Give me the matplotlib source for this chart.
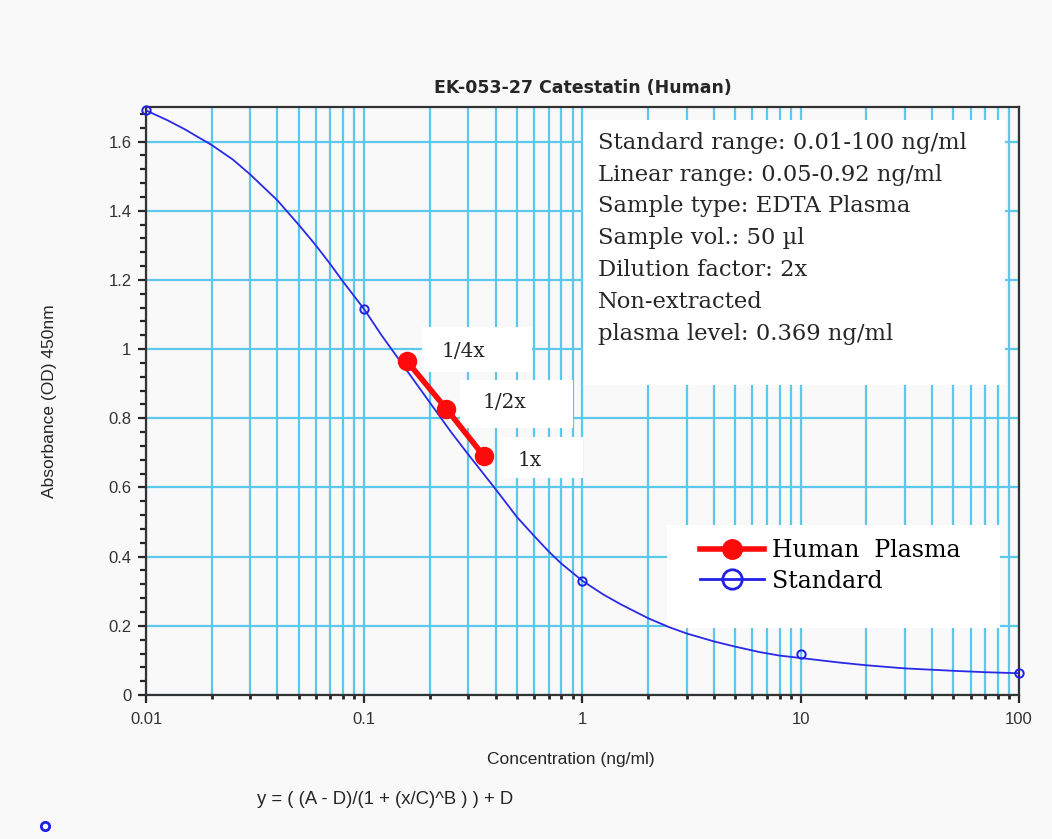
import numpy as np
import matplotlib
matplotlib.use("Agg")
import matplotlib.pyplot as plt
from matplotlib.patches import Rectangle
from matplotlib.lines import Line2D
from matplotlib.ticker import FixedLocator, NullFormatter

# standard points
std_conc = [0.01, 0.1, 1.0, 10.0, 100.0]
std_od = [1.69, 1.115, 0.33, 0.118, 0.063]

# fitted curve
curve_conc = [0.01, 0.0125, 0.015, 0.02, 0.025, 0.03, 0.04, 0.05, 0.06, 0.07, 0.08,
              0.1, 0.12, 0.15, 0.2, 0.25, 0.3, 0.4, 0.5, 0.6, 0.7, 0.8,
              1.0, 1.25, 1.5, 2.0, 2.5, 3.0, 4.0, 5.0, 6.5, 8.0,
              10.0, 15.0, 20.0, 30.0, 50.0, 70.0, 100.0]
curve_od = [1.69, 1.662, 1.636, 1.59, 1.548, 1.505, 1.43, 1.36, 1.30, 1.245, 1.195,
            1.115, 1.04, 0.955, 0.845, 0.76, 0.695, 0.595, 0.515, 0.46, 0.415, 0.38,
            0.33, 0.29, 0.262, 0.222, 0.196, 0.178, 0.155, 0.14, 0.124, 0.114,
            0.107, 0.094, 0.086, 0.077, 0.07, 0.066, 0.063]

# human plasma dilutions
plasma_conc = [0.157, 0.238, 0.352]
plasma_od = [0.965, 0.827, 0.692]
plasma_labels = ["1/4x", "1/2x", "1x"]

x_ticks = [0.01, 0.1, 1, 10, 100]
x_ticklabels = ["0.01", "0.1", "1", "10", "100"]
y_ticks = [0, 0.2, 0.4, 0.6, 0.8, 1.0, 1.2, 1.4, 1.6]
y_ticklabels = ["0", "0.2", "0.4", "0.6", "0.8", "1", "1.2", "1.4", "1.6"]

info_lines = [
    "Standard range: 0.01-100 ng/ml",
    "Linear range: 0.05-0.92 ng/ml",
    "Sample type: EDTA Plasma",
    "Sample vol.: 50 \u00b5l",
    "Dilution factor: 2x",
    "Non-extracted",
    "plasma level: 0.369 ng/ml",
]

GRID = "#5cc8ec"
BG = "#f9f9f9"
INK = "#262626"
SERIF = ["DejaVu Serif"]
SANS = ["Liberation Sans", "DejaVu Sans"]

fig = plt.figure(figsize=(10.52, 8.39), dpi=100, facecolor=BG)
ax = fig.add_axes([0.1388, 0.1716, 0.8298, 0.7009])
ax.set_facecolor(BG)

ax.set_xscale("log")
ax.set_xlim(0.01, 100)
ax.set_ylim(0, 1.7)

# grid: every decade and sub-decade line on x, major steps on y
minor_x = [m * 10.0 ** e for e in range(-2, 2) for m in range(2, 10)]
ax.xaxis.set_minor_locator(FixedLocator(minor_x))
ax.xaxis.set_minor_formatter(NullFormatter())
ax.set_xticks(x_ticks, x_ticklabels)
ax.set_yticks(y_ticks, y_ticklabels)
ax.yaxis.set_minor_locator(FixedLocator(np.arange(0, 1.7, 0.04)))
ax.set_axisbelow(True)
ax.grid(True, which="both", axis="x", color=GRID, lw=1.6)
ax.grid(True, which="major", axis="y", color=GRID, lw=1.6)

ax.tick_params(axis="both", which="major", direction="out", length=6, width=1.6,
               color=INK, labelsize=12, labelcolor="#333333")
ax.tick_params(axis="x", which="major", pad=6)
ax.tick_params(axis="y", which="major", pad=4.5)
ax.tick_params(axis="y", which="minor", direction="out", length=4, width=1.6, color=INK)
ax.tick_params(axis="x", which="minor", direction="out", length=3, width=2, color=INK)
for lbl in ax.get_xticklabels() + ax.get_yticklabels():
    lbl.set_family(SANS)
for sp in ax.spines.values():
    sp.set_color("#333333")
    sp.set_linewidth(1.6)

# white boxes behind the annotations, they cut the grid like in the original
boxes = [
    (0.5006, 0.527, 0.483, 0.451),
    (0.316, 0.549, 0.126, 0.077),
    (0.360, 0.454, 0.129, 0.082),
    (0.4055, 0.369, 0.095, 0.070),
    (0.597, 0.114, 0.381, 0.175),
]
for bx in boxes:
    ax.add_patch(Rectangle(bx[:2], bx[2], bx[3], transform=ax.transAxes,
                           fc="white", ec="none", zorder=1))

ax.plot(curve_conc, curve_od, color="#2a2ae6", lw=1.3, zorder=3)
ax.plot(std_conc, std_od, ls="none", marker="o", ms=6, mfc="none", mec="#2020e6",
        mew=1.4, zorder=4, clip_on=False)
ax.plot(plasma_conc, plasma_od, color="#ff0a0a", lw=4, marker="o", ms=13,
        mfc="#ff0a0a", mec="#ff0a0a", zorder=5)

label_pos = [(0.339, 0.585), (0.385, 0.497), (0.426, 0.398)]
for (tx, ty), lab in zip(label_pos, plasma_labels):
    ax.text(tx, ty, lab, transform=ax.transAxes, family=SERIF, fontsize=14.5,
            va="center", ha="left", color=INK, zorder=6)

ax.text(0.518, 0.958, "\n".join(info_lines), transform=ax.transAxes, family=SERIF,
        fontsize=16.3, va="top", ha="left", linespacing=1.58, color=INK, zorder=6)

handles = [
    Line2D([], [], color="#ff0a0a", lw=4, marker="o", ms=14, mfc="#ff0a0a", mec="#ff0a0a"),
    Line2D([], [], color="#2020e6", lw=2, marker="o", ms=14, mfc="none", mec="#2020e6", mew=2),
]
leg = ax.legend(handles, ["Human  Plasma", "Standard"], loc="upper left",
                bbox_to_anchor=(0.6346, 0.265), borderaxespad=0, frameon=False,
                prop={"family": SERIF, "size": 17}, handlelength=2.7,
                handletextpad=0.35, labelspacing=0.32, borderpad=0)
leg.set_zorder(7)

ax.set_title("EK-053-27 Catestatin (Human)", fontsize=12.5, fontweight="bold",
             family=["DejaVu Sans"], pad=10, color=INK)
ax.set_xlabel("Concentration (ng/ml)", fontsize=12.5, family=SANS, labelpad=18, color=INK)
ax.xaxis.label.set_x(0.487)
ax.set_ylabel("Absorbance (OD) 450nm", fontsize=12.5, family=SANS, labelpad=37, color=INK)

fig.text(0.366, 0.0465, "y = ( (A - D)/(1 + (x/C)^B ) ) + D", fontsize=13.3, family=SANS,
         ha="center", va="center", color=INK)
fig.add_artist(Line2D([0.043], [0.015], marker="o", ms=6, mfc="none", mec="#2020e6",
                      mew=2, transform=fig.transFigure))

fig.savefig("out.png", dpi=100, facecolor=BG)
